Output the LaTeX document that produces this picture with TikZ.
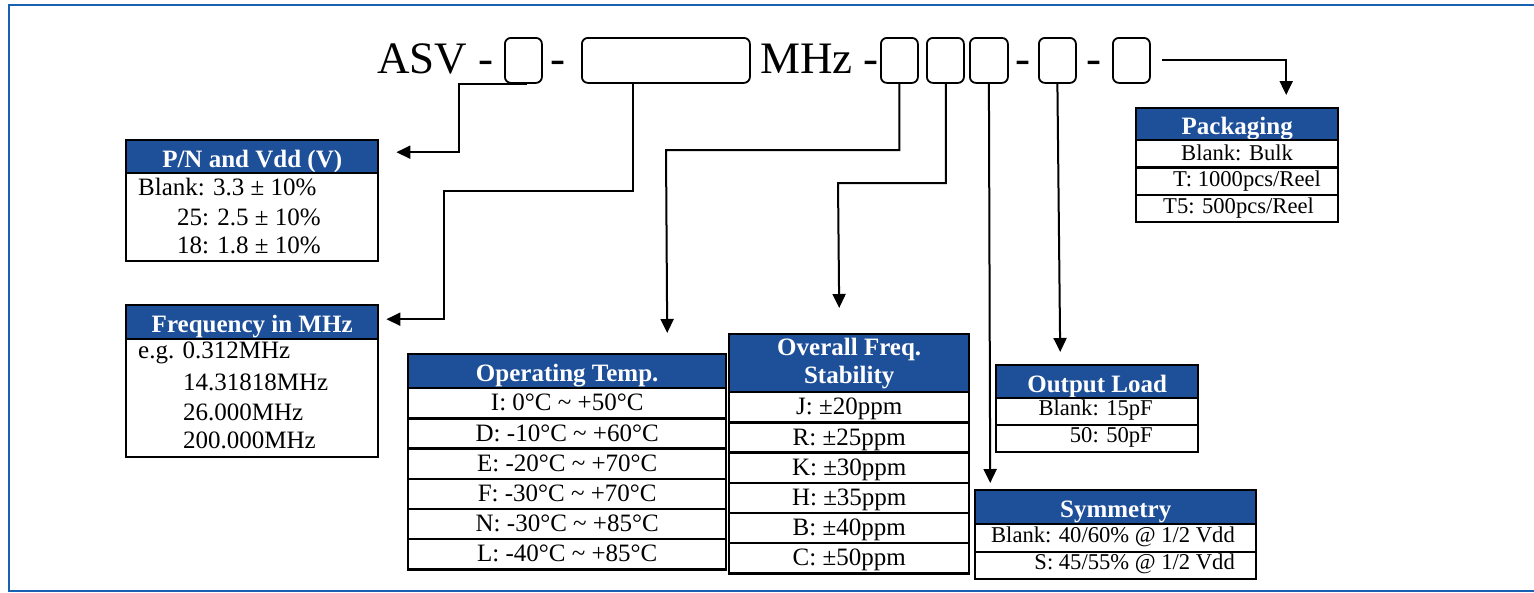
\documentclass[tikz,border=0pt]{standalone}
\usepackage{fontspec}
\setmainfont{Liberation Serif}
\usetikzlibrary{arrows.meta}
\definecolor{hdrblue}{RGB}{30,79,153}
\definecolor{frameblue}{RGB}{24,96,178}
\newcommand\bodyfs{\fontsize{25}{29}\selectfont}
\newcommand\smallfs{\fontsize{22.6}{27}\selectfont}
\newcommand\codefs{\fontsize{45}{50}\selectfont}
\begin{document}
\begin{tikzpicture}[x=1pt,y=-1pt,
 hdr/.style={draw=black,line width=2.4pt,fill=hdrblue,text=white,font=\bodyfs\bfseries,inner sep=0pt,anchor=north west,align=center},
 hdrone/.style={hdr,text height=21pt,text depth=0pt},
 cell/.style={draw=black,line width=2.4pt,inner sep=0pt,anchor=north west,font=\bodyfs,text height=20pt,text depth=5pt},
 scell/.style={draw=black,line width=2.4pt,inner sep=0pt,anchor=north west},
 txt/.style={inner sep=0pt,font=\bodyfs},
 stxt/.style={inner sep=0pt,font=\smallfs},
 cbox/.style={draw=black,line width=1.8pt,rounded corners=6pt,inner sep=0pt,anchor=north west,minimum height=45pt},
 code/.style={inner sep=0pt,font=\codefs,anchor=base},
 conn/.style={draw=black,line width=2pt},
 arr/.style={conn,-{Triangle[length=14pt,width=13pt]}}
]
\useasboundingbox (0,0) rectangle (1534,592);
% frame
\draw[frameblue,line width=2.6pt] (1540,5) -- (9,5) -- (9,591) -- (1540,591);

% code line
\node[code,anchor=base west] (asv) at (377,73) {ASV};
\node[code] (d1) at (486,73) {-};
\node[cbox,minimum width=37pt] (b1) at (504,37) {};
\node[code] (d2) at (558,73) {-};
\node[cbox,minimum width=168pt] (bf) at (581,37) {};
\node[code,anchor=base west] (mhz) at (760,73) {MHz};
\node[code] (d3) at (871,73) {-};
\node[cbox,minimum width=37pt] (c1) at (880,37) {};
\node[cbox,minimum width=37pt] (c2) at (926,37) {};
\node[cbox,minimum width=38pt] (c3) at (969,37) {};
\node[code] (d4) at (1023,73) {-};
\node[cbox,minimum width=37pt] (c4) at (1038,37) {};
\node[code] (d5) at (1094,73) {-};
\node[cbox,minimum width=37pt] (c5) at (1112,37) {};

% P/N and Vdd
\node[hdrone,minimum width=252pt,minimum height=33pt] (pnh) at (125,139) {P/N and Vdd (V)};
\node[scell,minimum width=252pt,minimum height=88pt] (pnb) at (125,172) {};
\node[txt,anchor=west] (pn1) at (138,187) {Blank: 3.3 ± 10\%};
\node[txt,anchor=west] (pn2) at (177,217) {25: 2.5 ± 10\%};
\node[txt,anchor=west] (pn3) at (177,245) {18: 1.8 ± 10\%};

% Frequency
\node[hdrone,minimum width=252pt,minimum height=34pt] (frh) at (125,304) {Frequency in MHz};
\node[scell,minimum width=252pt,minimum height=118pt] (frb) at (125,338) {};
\node[txt,anchor=west] (fr1) at (138,353) {e.g. 0.312MHz};
\node[txt,anchor=west] (fr2) at (183,382) {14.31818MHz};
\node[txt,anchor=west] (fr3) at (183,412) {26.000MHz};
\node[txt,anchor=west] (fr4) at (183,440) {200.000MHz};

% Operating Temp
\node[hdrone,minimum width=318pt,minimum height=34pt] (oth) at (407,353) {Operating Temp.};
\node[cell,minimum width=318pt,minimum height=30.2pt] (ot1) at (407,387) {I: 0°C \textasciitilde\ +50°C};
\node[cell,minimum width=318pt,minimum height=30.2pt] (ot2) at (407,417.2) {D: -10°C \textasciitilde\ +60°C};
\node[cell,minimum width=318pt,minimum height=30.2pt] (ot3) at (407,447.4) {E: -20°C \textasciitilde\ +70°C};
\node[cell,minimum width=318pt,minimum height=30.2pt] (ot4) at (407,477.6) {F: -30°C \textasciitilde\ +70°C};
\node[cell,minimum width=318pt,minimum height=30.2pt] (ot5) at (407,507.8) {N: -30°C \textasciitilde\ +85°C};
\node[cell,minimum width=318pt,minimum height=30.2pt] (ot6) at (407,538) {L: -40°C \textasciitilde\ +85°C};

% Overall Freq Stability
\node[hdr,minimum width=240pt,minimum height=58pt] (ofh) at (728,333) {Overall Freq.\\[-1pt]Stability};
\node[cell,minimum width=240pt,minimum height=30.2pt] (of1) at (728,391) {J: ±20ppm};
\node[cell,minimum width=240pt,minimum height=30.2pt] (of2) at (728,421.2) {R: ±25ppm};
\node[cell,minimum width=240pt,minimum height=30.2pt] (of3) at (728,451.4) {K: ±30ppm};
\node[cell,minimum width=240pt,minimum height=30.2pt] (of4) at (728,481.6) {H: ±35ppm};
\node[cell,minimum width=240pt,minimum height=30.2pt] (of5) at (728,511.8) {B: ±40ppm};
\node[cell,minimum width=240pt,minimum height=30.2pt] (of6) at (728,542) {C: ±50ppm};

% Output Load
\node[hdrone,minimum width=202pt,minimum height=33pt] (olh) at (995,364) {Output Load};
\node[scell,minimum width=202pt,minimum height=27pt] (ol1) at (995,397) {};
\node[scell,minimum width=202pt,minimum height=27pt] (ol2) at (995,424) {};
\node[stxt,anchor=east] (olt1) at (1153,410.5) {Blank: 15pF};
\node[stxt,anchor=east] (olt2) at (1153,437.5) {50: 50pF};

% Symmetry
\node[hdrone,minimum width=281pt,minimum height=34pt] (syh) at (974,489) {Symmetry};
\node[scell,minimum width=281pt,minimum height=27.5pt] (sy1) at (974,523) {};
\node[scell,minimum width=281pt,minimum height=27.5pt] (sy2) at (974,550.5) {};
\node[stxt,anchor=east] (syt1) at (1235,536.5) {Blank: 40/60\% @ 1/2 Vdd};
\node[stxt,anchor=east] (syt2) at (1235,564) {S: 45/55\% @ 1/2 Vdd};

% Packaging
\node[hdrone,minimum width=202pt,minimum height=32pt] (pkh) at (1135,107) {Packaging};
\node[scell,minimum width=202pt,minimum height=27.3pt] (pk1) at (1135,139) {};
\node[scell,minimum width=202pt,minimum height=27.3pt] (pk2) at (1135,166.3) {};
\node[scell,minimum width=202pt,minimum height=27.3pt] (pk3) at (1135,193.6) {};
\node[stxt,anchor=west] (pkt1) at (1181,153) {Blank: Bulk};
\node[stxt,anchor=west] (pkt2) at (1173,181) {T: 1000pcs/Reel};
\node[stxt,anchor=west] (pkt3) at (1163,208) {T5: 500pcs/Reel};

% connectors
\draw[arr] ([xshift=4pt]b1.south) -- ++(-68,0) |- ([xshift=17pt,yshift=4.5pt]pnh.east);
\draw[arr] ([xshift=-33pt]bf.south) |- (444,191) |- ([xshift=7pt,yshift=3pt]frh.east);
\draw[arr] (c1.south) |- (666,150) -- ([xshift=100pt,yshift=20pt]oth.north);
\draw[arr] ([xshift=0.5pt]c2.south) |- (838,183) -- ([xshift=-10pt,yshift=25pt]ofh.north);
\draw[arr] (c3.south) -- ([xshift=-125.5pt,yshift=6pt]syh.north);
\draw[arr] (c4.south) -- ([xshift=-37pt,yshift=12pt]olh.north);
\draw[arr] ([xshift=11pt]c5.east) -| ([xshift=49pt,yshift=12pt]pkh.north);
\end{tikzpicture}
\end{document}
